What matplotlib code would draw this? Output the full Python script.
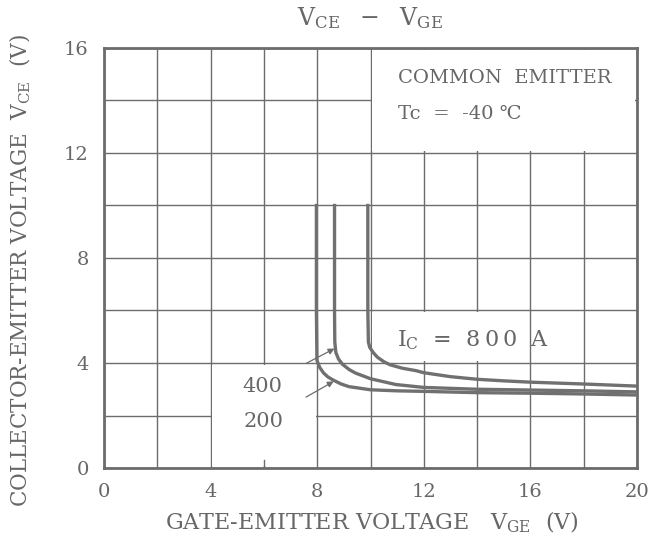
import matplotlib
matplotlib.use('Agg')
import matplotlib.pyplot as plt
from matplotlib.patches import Rectangle

# V_CE vs V_GE at Tc = -40 C, one curve per collector current
ic_labels = ['200', '400', '800']

vge_200 = [7.97, 7.97, 7.99, 8.1, 8.24, 8.4, 8.6, 8.9, 9.19, 10.0, 11.0, 12.0, 14.0, 16.0, 18.0, 20.0]
vce_200 = [10.0, 6.0, 4.1, 3.82, 3.62, 3.47, 3.35, 3.2, 3.1, 2.98, 2.94, 2.92, 2.87, 2.85, 2.82, 2.78]

vge_400 = [8.65, 8.65, 8.66, 8.7, 8.8, 8.95, 9.2, 9.43, 10.0, 10.95, 12.0, 14.0, 16.0, 18.0, 20.0]
vce_400 = [10.0, 6.0, 4.8, 4.4, 4.15, 3.95, 3.75, 3.62, 3.4, 3.18, 3.07, 3.0, 2.97, 2.94, 2.9]

vge_800 = [9.9, 9.9, 9.92, 9.97, 10.1, 10.26, 10.5, 10.74, 11.2, 11.7, 12.0, 13.0, 14.0, 15.0, 16.0, 18.0, 20.0]
vce_800 = [10.0, 6.0, 4.8, 4.6, 4.4, 4.22, 4.05, 3.93, 3.8, 3.71, 3.63, 3.48, 3.38, 3.32, 3.27, 3.2, 3.12]

x_ticks = [0, 4, 8, 12, 16, 20]
y_ticks = [0, 4, 8, 12, 16]

GRAY = '#6c6c6c'
TXT = '#676767'
SERIF = ['DejaVu Serif', 'DejaVu Sans']
THIN = '\u2009'

plt.rcParams['font.family'] = SERIF
plt.rcParams['mathtext.fontset'] = 'custom'
plt.rcParams['mathtext.rm'] = 'DejaVu Serif'

fig = plt.figure(figsize=(6.65, 5.42), dpi=100)
ax = fig.add_axes([0.1564, 0.1365, 0.8015, 0.775])
ax.set_xlim(0, 20)
ax.set_ylim(0, 16)

# grid every 2 V, labels every 4 V
ax.set_xticks(x_ticks)
ax.set_yticks(y_ticks)
ax.set_xticks(range(0, 21, 2), minor=True)
ax.set_yticks(range(0, 17, 2), minor=True)
ax.grid(True, which='both', color=GRAY, lw=1.0)
ax.set_axisbelow(True)
ax.tick_params(which='both', length=0)
ax.tick_params(axis='x', pad=11, labelsize=14, labelcolor=TXT)
ax.tick_params(axis='y', pad=11, labelsize=14, labelcolor=TXT)
for s in ax.spines.values():
    s.set_color(GRAY)
    s.set_linewidth(2.0)

# clear the grid behind the printed notes
e = 0.06
for (x0, y0, x1, y1) in [(10, 12, 20, 16), (10, 4, 16, 6), (4, 0, 8, 4)]:
    ax.add_patch(Rectangle((x0 + e, y0 + e), x1 - x0 - 2 * e, y1 - y0 - 2 * e,
                           facecolor='white', edgecolor='none', zorder=1))
ax.plot([6, 6], [0, 0.3], color=GRAY, lw=1.0, zorder=1.5)

for xs, ys in [(vge_200, vce_200), (vge_400, vce_400), (vge_800, vce_800)]:
    ax.plot(xs, ys, color='#707070', lw=2.4, solid_joinstyle='round', zorder=3)

ax.text(11.05, 14.86, 'COMMON  EMITTER', fontsize=14, color=TXT, va='center')
ax.text(11.05, 13.49, 'Tc  =  -40 ℃', fontsize=14, color=TXT, va='center')
ax.text(11.0, 4.88, r'$\mathregular{I_C}$  =  ' + THIN.join(ic_labels[2]) + '  A',
        fontsize=16, color=TXT, va='center')

ax.annotate(ic_labels[1], xy=(8.65, 4.55), xytext=(5.95, 3.12), fontsize=15, color=TXT,
            ha='center', va='center',
            arrowprops=dict(arrowstyle='-|>', color=GRAY, lw=0.9, mutation_scale=9,
                            shrinkA=17, shrinkB=0))
ax.annotate(ic_labels[0], xy=(8.62, 3.3), xytext=(6.0, 1.79), fontsize=15, color=TXT,
            ha='center', va='center',
            arrowprops=dict(arrowstyle='-|>', color=GRAY, lw=0.9, mutation_scale=9,
                            shrinkA=17, shrinkB=0))

fig.text(0.557, 0.967, r'$\mathregular{V_{CE}\ \ -\ \ V_{GE}}$', fontsize=17, color=TXT,
         ha='center', va='center')
fig.text(0.559, 0.037, r'GATE-EMITTER VOLTAGE   $\mathregular{V_{GE}}$  (V)', fontsize=16,
         color=TXT, ha='center', va='center')
fig.text(0.03, 0.5, r'COLLECTOR-EMITTER VOLTAGE  $\mathregular{V_{CE}}$  (V)', fontsize=15.5,
         color=TXT, ha='center', va='center', rotation=90)

fig.savefig('out.png', dpi=100, facecolor='white')
